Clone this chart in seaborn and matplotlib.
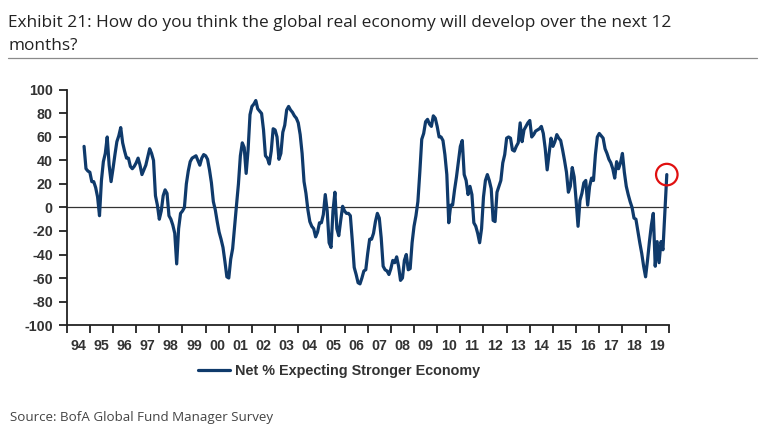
import numpy as np
import pandas as pd
import matplotlib.pyplot as plt
import seaborn as sns
from matplotlib.lines import Line2D

sns.set_theme(style="white")
plt.rcParams['font.family'] = ['Liberation Sans', 'DejaVu Sans']

# monthly net % expecting a stronger economy, Oct 1994 - Dec 2019
net_1990s = [
    52, 33, 31,                                          # 1994 (Oct-Dec)
    30, 22, 22, 17, 9, -7, 23, 39, 46, 60, 36, 22,       # 1995
    33, 45, 56, 61, 68, 55, 48, 42, 42, 35, 33, 35,      # 1996
    38, 42, 36, 28, 32, 36, 43, 50, 46, 40, 10, 2,       # 1997
    -10, -3, 10, 15, 12, -7, -10, -15, -22, -48, -18, -5,  # 1998
    -3, 0, 20, 31, 39, 42, 43, 44, 40, 36, 42, 45,       # 1999
]
net_2000s = [
    44, 41, 32, 21, 5, -2, -12, -21, -27, -34, -46, -59,     # 2000
    -60, -44, -35, -16, 2, 20, 44, 55, 51, 29, 49, 79,       # 2001
    86, 88, 91, 84, 82, 80, 66, 44, 42, 37, 48, 67,          # 2002
    66, 60, 41, 46, 64, 70, 83, 86, 83, 81, 78, 76,          # 2003
    72, 62, 46, 22, 12, -2, -12, -16, -18, -25, -21, -13,    # 2004
    -13, -6, 11, -3, -30, -34, -3, 13, -18, -24, -11, 1,     # 2005
    -3, -5, -5, -7, -28, -51, -57, -64, -65, -60, -54, -53,  # 2006
    -39, -27, -27, -22, -12, -5, -9, -26, -50, -53, -54, -57,  # 2007
    -52, -45, -47, -42, -50, -62, -60, -45, -40, -53, -52, -30,  # 2008
    -16, -7, 5, 30, 58, 63, 73, 75, 71, 69, 78, 76,          # 2009
]
net_2010s = [
    69, 60, 60, 57, 45, 28, -13, 2, 2, 15, 26, 39,           # 2010
    52, 57, 28, 23, 11, 18, 11, -13, -16, -22, -30, -18,     # 2011
    9, 23, 28, 23, 16, -11, -12, 13, 18, 23, 38, 45,         # 2012
    59, 60, 59, 49, 48, 52, 55, 72, 56, 66, 69, 72,          # 2013
    74, 60, 62, 65, 66, 67, 69, 63, 50, 32, 46, 59,          # 2014
    52, 56, 62, 59, 57, 49, 40, 30, 13, 18, 34, 26,          # 2015
    6, -16, 6, 12, 21, 23, 2, 18, 25, 23, 45, 60,            # 2016
    63, 61, 59, 50, 46, 41, 38, 33, 25, 39, 33, 38,          # 2017
    46, 30, 18, 11, 5, 0, -9, -10, -20, -30, -39, -50,       # 2018
    -59, -45, -29, -15, -5, -50, -29, -47, -29, -36, -4, 28, # 2019
]

year_labels = ["94", "95", "96", "97", "98", "99", "00", "01", "02", "03",
               "04", "05", "06", "07", "08", "09", "10", "11", "12", "13",
               "14", "15", "16", "17", "18", "19"]
y_ticks = [-100, -80, -60, -40, -20, 0, 20, 40, 60, 80, 100]

series_name = "Net % Expecting Stronger Economy"
title_1 = "Exhibit 21: How do you think the global real economy will develop over the next 12"
title_2 = "months?"
source = "Source: BofA Global Fund Manager Survey"

net = net_1990s + net_2000s + net_2010s
dates = pd.date_range("1994-10-01", periods=len(net), freq="MS")
df = pd.DataFrame({"x": dates.year + (dates.month - 1) / 12, "net": net})

navy = "#0f3a6b"
dark = "#222222"

fig = plt.figure(figsize=(7.64, 4.41), dpi=100)
ax = fig.add_axes([0.0873, 0.263, 0.788, 0.533])

ax.axhline(0, color="#333333", lw=0.9, zorder=1)
sns.lineplot(data=df, x="x", y="net", color=navy, linewidth=2.3,
             label=series_name, ax=ax, zorder=3)

# highlight the latest reading
last = df.iloc[-1]
ax.scatter([last["x"]], [last["net"]], s=240, facecolors="none",
           edgecolors="#e01010", linewidths=1.6, zorder=5, clip_on=False)

ax.set_xlim(1994, 2020)
ax.set_ylim(-100, 100)
ax.set_xlabel("")
ax.set_ylabel("")

ax.set_xticks(np.arange(1994, 2021))
ax.set_xticklabels([])
ax.set_xticks(np.arange(1994.5, 2020), minor=True)
ax.set_xticklabels(year_labels, minor=True)
ax.set_yticks(y_ticks)
ax.set_yticklabels([str(v) for v in y_ticks])

ax.tick_params(axis="x", which="major", bottom=True, length=6, width=1.3,
               color=dark, direction="out")
ax.tick_params(axis="x", which="minor", bottom=True, length=0, pad=10,
               labelsize=10.3, labelcolor="#333333")
ax.tick_params(axis="y", left=True, length=6, width=1.3, color=dark,
               pad=4, labelsize=10.3, labelcolor="#333333")
for lbl in ax.get_xticklabels(minor=True) + ax.get_yticklabels():
    lbl.set_fontweight("bold")

sns.despine(ax=ax)
for side in ["left", "bottom"]:
    ax.spines[side].set_color(dark)
    ax.spines[side].set_linewidth(1.3)

leg = ax.legend(loc="center left", bbox_to_anchor=(198 / 764, 1 - 371 / 441),
                bbox_transform=fig.transFigure, frameon=False, borderpad=0,
                borderaxespad=0, handlelength=2.2, handletextpad=0.35,
                prop={"weight": "bold", "size": 10.4})
for t in leg.get_texts():
    t.set_color("#333333")

title_font = ["Open Sans", "DejaVu Sans"]
fig.text(8 / 764, 1 - 27 / 441, title_1, fontsize=12.4, family=title_font,
         color="#222222", va="baseline")
fig.text(8 / 764, 1 - 50 / 441, title_2, fontsize=12.4, family=title_font,
         color="#222222", va="baseline")
fig.add_artist(Line2D([8 / 764, 757 / 764], [1 - 57.5 / 441, 1 - 57.5 / 441],
                      color="#8a8a8a", lw=0.9))
fig.text(10 / 764, 1 - 421 / 441, source, fontsize=9.65, family=title_font,
         color="#444444", va="baseline")

fig.savefig("out.png", dpi=100)
